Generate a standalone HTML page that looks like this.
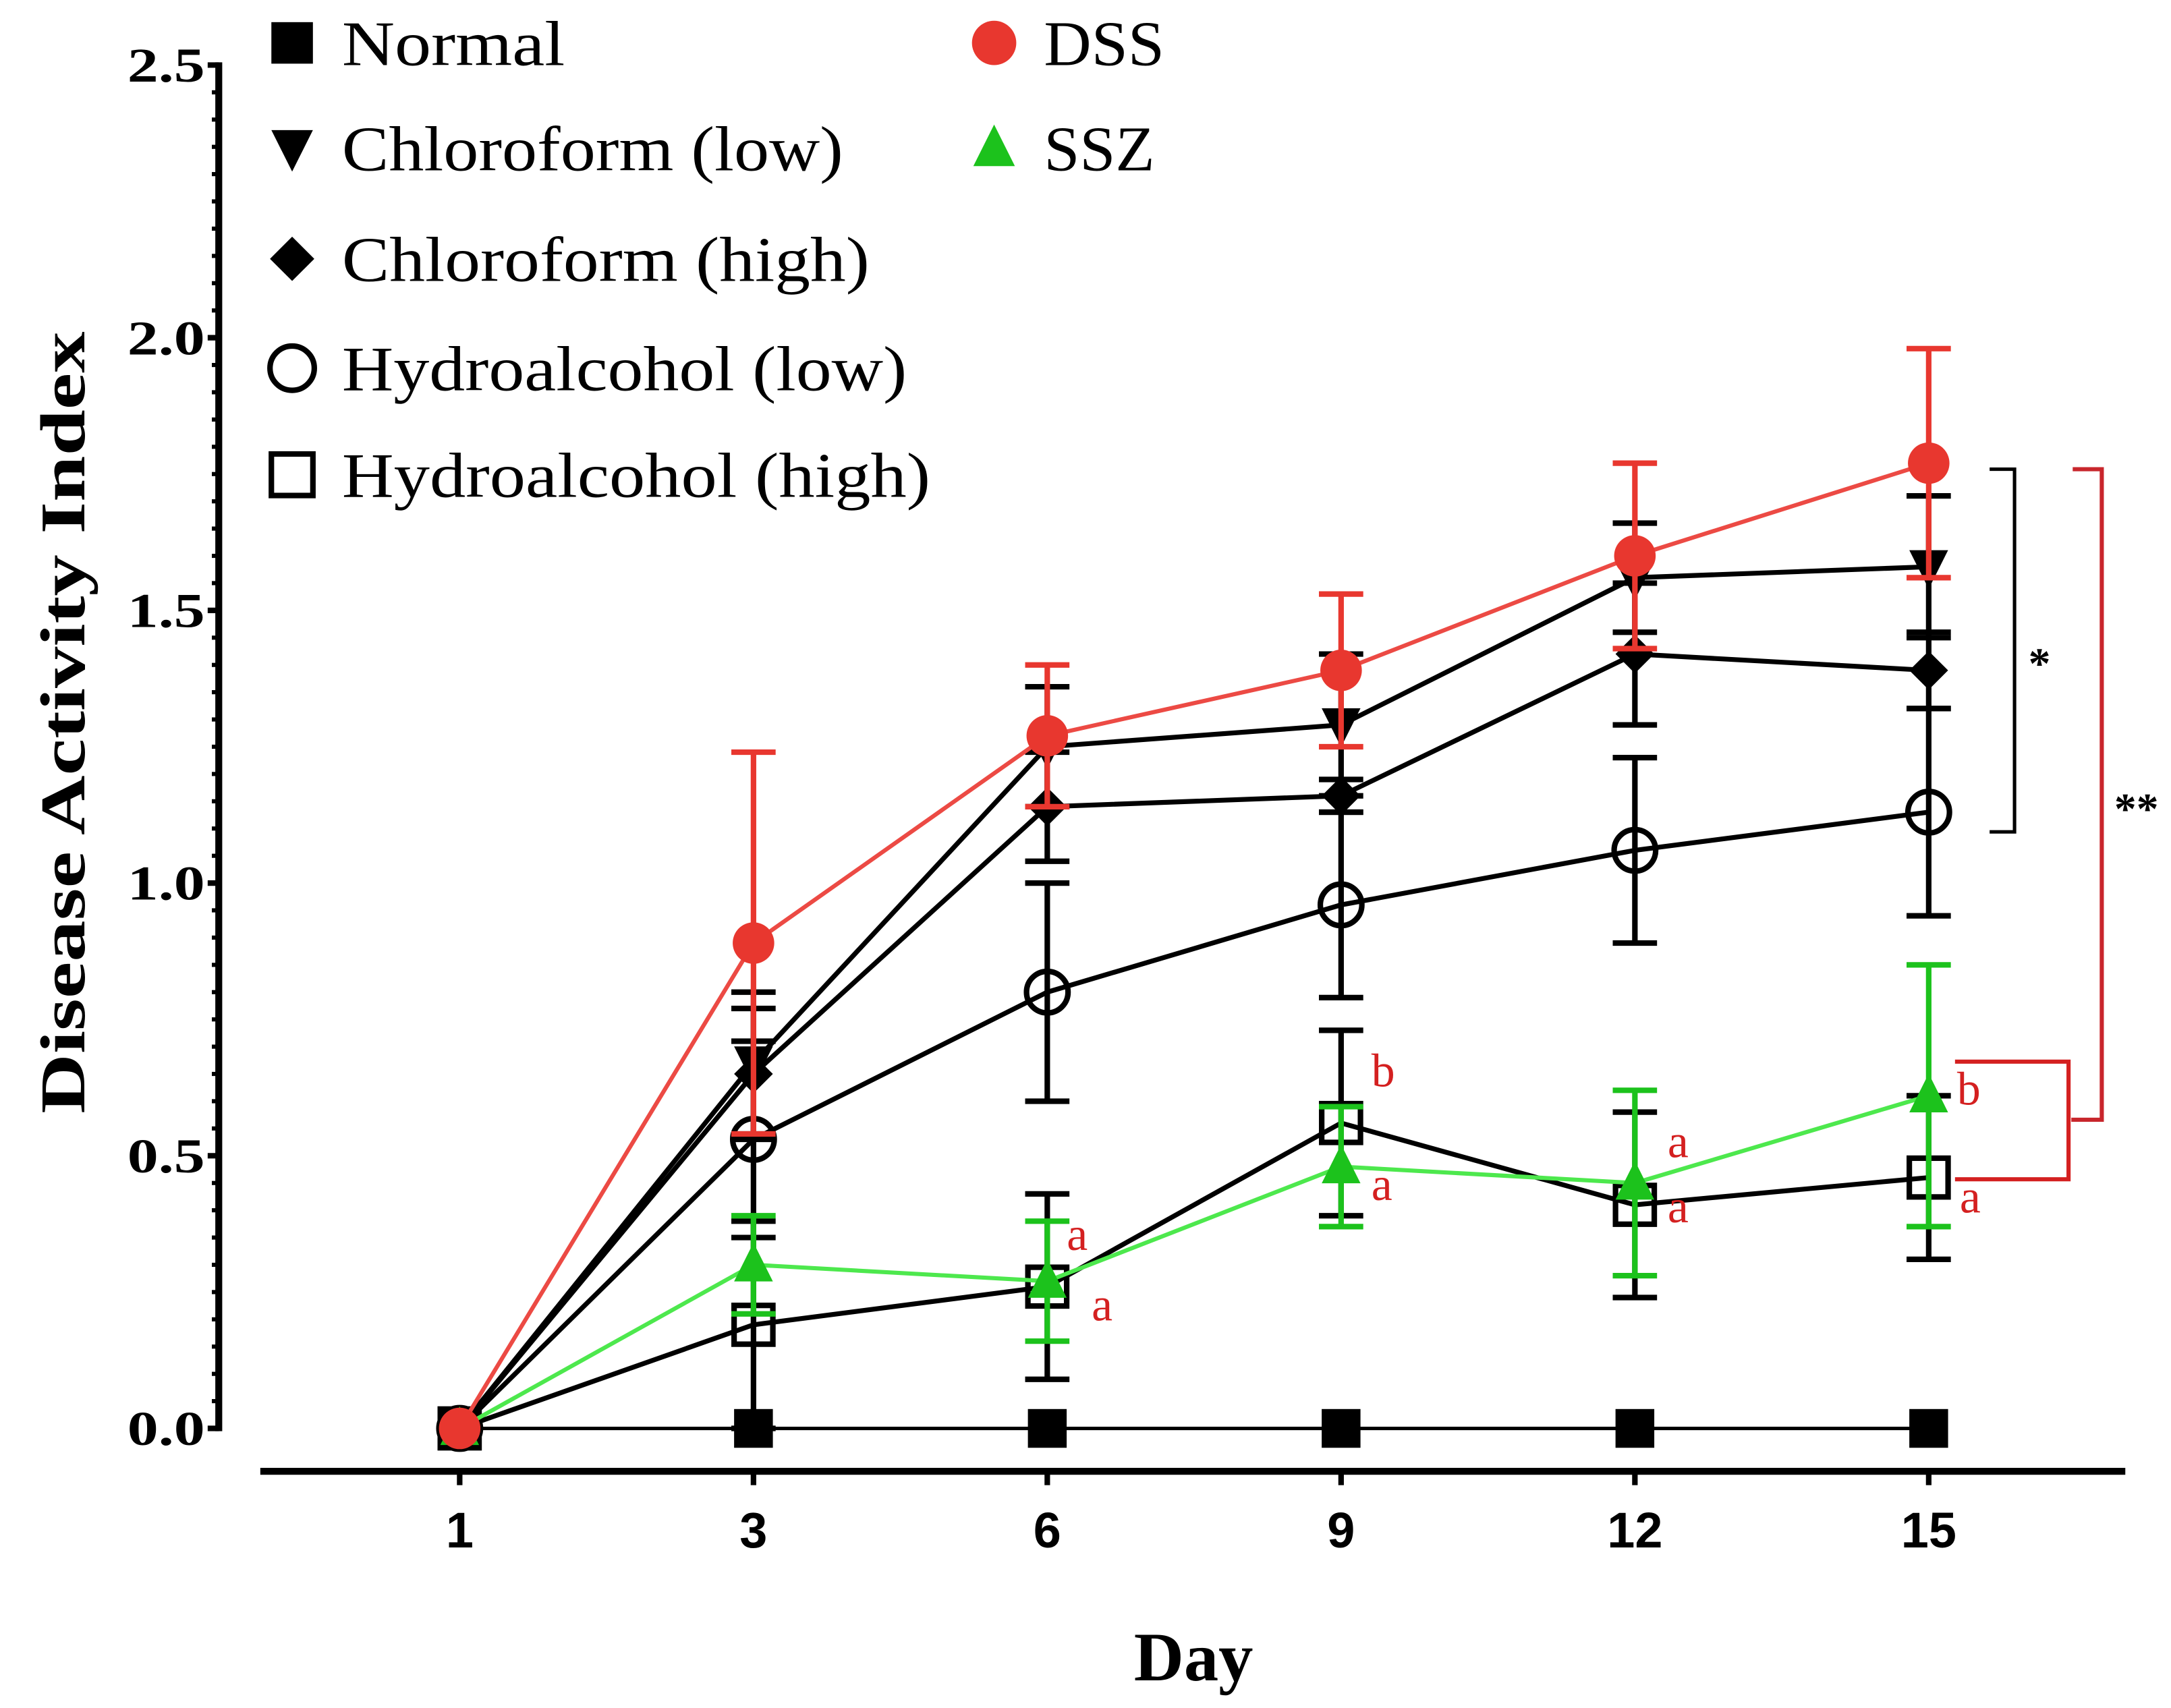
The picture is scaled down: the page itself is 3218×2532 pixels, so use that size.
<!DOCTYPE html>
<html><head><meta charset="utf-8"><style>html,body{margin:0;padding:0;background:#fff}svg{display:block}</style></head>
<body>
<svg id="chart" width="3218" height="2532" viewBox="0 0 1568 1234" preserveAspectRatio="none" xmlns="http://www.w3.org/2000/svg" font-family="'Liberation Serif', serif"></svg>
<script>
const days = ["1","3","6","9","12","15"];
const yTicks = ["0.0","0.5","1.0","1.5","2.0","2.5"];
const normalVals = [0,0,0,0,0,0];
const dssVals = [0,0.89,1.27,1.39,1.60,1.77];
const dssErr = [0,0.35,0.13,0.14,0.17,0.21];
const clLowVals = [0,0.67,1.25,1.29,1.56,1.58];
const clLowErr = [0,0.13,0.11,0.13,0.10,0.13];
const clHighVals = [0,0.65,1.14,1.16,1.42,1.39];
const clHighErr = [0,0.12,0.10,0.03,0.13,0.07];
const haLowVals = [0,0.53,0.80,0.96,1.06,1.13];
const haLowErr = [0,0.18,0.20,0.17,0.17,0.19];
const haHighVals = [0,0.19,0.26,0.56,0.41,0.46];
const haHighErr = [0,0.19,0.17,0.17,0.17,0.15];
const sszVals = [0,0.30,0.27,0.48,0.45,0.61];
const sszErr = [0,0.09,0.11,0.11,0.17,0.24];

const svg = document.getElementById('chart');
const NS = 'http://www.w3.org/2000/svg';
const X0 = 332, DX = 212.2, Y0 = 1032, YPX = 394;
const xs = i => X0 + i * DX;
const ys = v => Y0 - v * YPX;
function mk(tag, attrs, parent) {
  const e = document.createElementNS(NS, tag);
  for (const k in attrs) e.setAttribute(k, attrs[k]);
  (parent || svg).appendChild(e);
  return e;
}
function txt(s, attrs, parent) { const t = mk('text', attrs, parent); t.textContent = s; return t; }

const yAxis = mk('g', {});


mk('line', {x1:158, y1:ys(2.5)-2, x2:158, y2:Y0+2, stroke:'#000','stroke-width':5}, yAxis);
for (let k = 0; k <= 50; k++) {
  const v = k * 0.05;
  const major = k % 10 === 0;
  mk('line', {x1: major ? 150 : 153, y1: ys(v), x2: 158, y2: ys(v), stroke:'#000', 'stroke-width': major ? 4 : 3}, yAxis);
}
yTicks.forEach((t, i) => {
  const l = txt(t, {x:92, y:ys(i*0.5)+12, 'font-size':35, 'font-weight':'bold', textLength:56, lengthAdjust:'spacingAndGlyphs'}, yAxis);
  
  
});
const yTitle = txt('Disease Activity Index', {x:0, y:0, transform:'translate(61,522) rotate(-90)', 'text-anchor':'middle', 'font-size':46, 'font-weight':'bold', textLength:565, lengthAdjust:'spacingAndGlyphs'});



const xAxis = mk('g', {});


mk('line', {x1:188, y1:1063, x2:1535, y2:1063, stroke:'#000','stroke-width':5}, xAxis);
days.forEach((d, i) => {
  mk('line', {x1:xs(i), y1:1063, x2:xs(i), y2:1073, stroke:'#000','stroke-width':4}, xAxis);
  const l = txt(d, {x:xs(i), y:1118, 'text-anchor':'middle', 'font-size':36, 'font-weight':'bold', 'font-family':"'Liberation Sans', sans-serif"}, xAxis);
  
  
});
const xTitle = txt('Day', {x:862, y:1214, 'text-anchor':'middle', 'font-size':50, 'font-weight':'bold'});



function marker(shape, cx, cy, color, g, size) {
  const s = size || 14;
  if (shape === 'square') return mk('rect', {x:cx-s, y:cy-s, width:2*s, height:2*s, fill:color}, g);
  if (shape === 'circle') return mk('circle', {cx, cy, r:s+1, fill:color}, g);
  if (shape === 'tdown') return mk('polygon', {points:`${cx-s},${cy-s+2} ${cx+s},${cy-s+2} ${cx},${cy+s+2}`, fill:color}, g);
  if (shape === 'tup') return mk('polygon', {points:`${cx-s},${cy+s-2} ${cx+s},${cy+s-2} ${cx},${cy-s-2}`, fill:color}, g);
  if (shape === 'diamond') return mk('polygon', {points:`${cx},${cy-s} ${cx+s},${cy} ${cx},${cy+s} ${cx-s},${cy}`, fill:color}, g);
  if (shape === 'ocircle') return mk('circle', {cx, cy, r:s+1, fill:'none', stroke:color, 'stroke-width':4}, g);
  if (shape === 'osquare') return mk('rect', {x:cx-s, y:cy-s, width:2*s, height:2*s, fill:'none', stroke:color, 'stroke-width':4}, g);
}

function series(name, vals, errs, color, shape, lw, lineColor) {
  const g = mk('g', {});
  
  
  if (errs) {
    vals.forEach((v, i) => {
      if (!errs[i]) return;
      const lo = Math.max(0, v - errs[i]), hi = v + errs[i];
      mk('line', {x1:xs(i), y1:ys(hi), x2:xs(i), y2:ys(lo), stroke:color, 'stroke-width':4}, g);
      mk('line', {x1:xs(i)-16, y1:ys(hi), x2:xs(i)+16, y2:ys(hi), stroke:color, 'stroke-width':4}, g);
      mk('line', {x1:xs(i)-16, y1:ys(lo), x2:xs(i)+16, y2:ys(lo), stroke:color, 'stroke-width':4}, g);
    });
  }
  mk('polyline', {points: vals.map((v,i)=>`${xs(i)},${ys(v)}`).join(' '), fill:'none', stroke:lineColor||color, 'stroke-width':lw||3.5}, g);
  vals.forEach((v, i) => {
    const m = marker(shape, xs(i), ys(v), color, g);
    
    
  });
}
series('normal-series', normalVals, null, '#000', 'square', 2.5);
series('hydroalcohol-high-series', haHighVals, haHighErr, '#000', 'osquare');
series('hydroalcohol-low-series', haLowVals, haLowErr, '#000', 'ocircle');
series('chloroform-high-series', clHighVals, clHighErr, '#000', 'diamond');
series('chloroform-low-series', clLowVals, clLowErr, '#000', 'tdown');
series('ssz-series', sszVals, sszErr, '#1cc21c', 'tup', 3, '#4de84d');
series('dss-series', dssVals, dssErr, '#e8372f', 'circle', 3, '#ec4a44');

const letters = [["a",778,903],["a",796,954],["b",999,785],["a",998,867],["a",1212,836],["a",1212,883],["b",1422,798],["a",1423,876]];
letters.forEach(l => {
  const t = txt(l[0], {x:l[1], y:l[2], 'font-size':34, fill:'#d42020', 'text-anchor':'middle'});
  
  
});

const b1 = mk('polyline', {points:'1437,339 1455,339 1455,601 1437,601', fill:'none', stroke:'#000', 'stroke-width':2.5});


const s1 = txt('*', {x:1473, y:490, 'font-size':32, 'font-weight':'bold', 'text-anchor':'middle'});


const b2 = mk('polyline', {points:'1497,339 1518,339 1518,809 1496,809', fill:'none', stroke:'#c8262c', 'stroke-width':3});


const s2 = txt('**', {x:1543, y:595, 'font-size':32, 'font-weight':'bold', 'text-anchor':'middle'});


const b3 = mk('polyline', {points:'1412,767 1494,767 1494,852 1412,852', fill:'none', stroke:'#d42020', 'stroke-width':3});



const legendItems = [
  ['Normal','square','#000',211,31,161],
  ['Chloroform (low)','tdown','#000',211,107,362],
  ['Chloroform (high)','diamond','#000',211,187,381],
  ['Hydroalcohol (low)','ocircle','#000',211,266,408],
  ['Hydroalcohol (high)','osquare','#000',211,343,425],
  ['DSS','circle','#e8372f',718,31,87],
  ['SSZ','tup','#1cc21c',718,107,80]
];
legendItems.forEach(it => {
  const g = mk('g', {});
  
  
  marker(it[1], it[3], it[4], it[2], g, it[1]==='diamond'?16:15);
  txt(it[0], {x:it[3]+36, y:it[4]+16, 'font-size':46, textLength:it[5], lengthAdjust:'spacingAndGlyphs'}, g);
});
</script>
</body></html>
